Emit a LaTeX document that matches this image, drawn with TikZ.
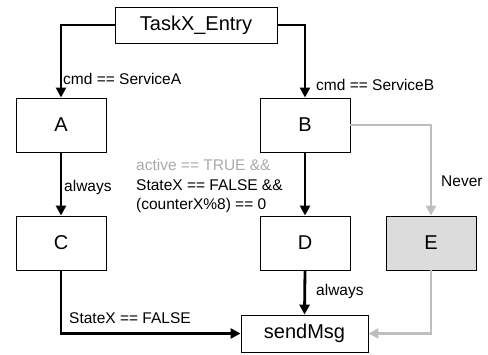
\documentclass[tikz,border=0pt]{standalone}
\usepackage{fontspec}
\setmainfont{Liberation Sans}
\usetikzlibrary{arrows.meta}
\definecolor{lightline}{HTML}{BEBEBE}
\definecolor{lighttext}{HTML}{AAAAAA}
\definecolor{boxfill}{HTML}{DCDCDC}
\tikzset{
  state/.style={draw=black, line width=0.9pt, minimum width=90pt, minimum height=54pt,
    inner sep=0pt, font=\fontsize{20}{24}\selectfont},
  conn/.style={line width=2.8pt, -{Triangle[length=10pt,width=10pt]}},
  grayconn/.style={conn, draw=lightline},
  lbl/.style={anchor=west, inner sep=0pt, align=left, font=\fontsize{15.5}{19.5}\selectfont},
}
\begin{document}
\begin{tikzpicture}[x=1pt, y=-1pt]
  \useasboundingbox (0,0) rectangle (488,354);
  % state boxes
  \node[state, minimum width=162pt, minimum height=36pt] (entry) at (196,25) {TaskX\_Entry};
  \node[state] (A) at (61,125) {A};
  \node[state] (B) at (305,125) {B};
  \node[state] (C) at (61,243) {C};
  \node[state] (D) at (305,243) {D};
  \node[state, fill=boxfill] (E) at (431,243) {E};
  \node[state, minimum width=127pt, minimum height=37pt] (send) at (304.5,333.5) {sendMsg};
  % transitions
  \draw[conn] (entry.west) -| (A.north);
  \draw[conn] (entry.east) -| (B.north);
  \draw[conn] (A.south) -- (C.north);
  \draw[conn] (B.south) -- (D.north);
  \draw[conn] (D.south) -- (send.north);
  \draw[conn] (C.south) |- (send.west);
  \draw[grayconn] (B.east) -| (E.north);
  \draw[grayconn] (E.south) |- (send.east);
  % transition conditions
  \node[lbl] (lA) at (63,79) {cmd == ServiceA};
  \node[lbl] (lB) at (316,85) {cmd == ServiceB};
  \node[lbl] (lAC) at (64,187) {always};
  \node[lbl] (lBD) at (136,186) {\textcolor{lighttext}{active == TRUE \&\&}\\StateX == FALSE \&\&\\(counterX\%8) == 0};
  \node[lbl] (lBE) at (441,181) {Never};
  \node[lbl] (lDS) at (316,291) {always};
  \node[lbl] (lCS) at (69,318) {StateX == FALSE};
\end{tikzpicture}
\end{document}
